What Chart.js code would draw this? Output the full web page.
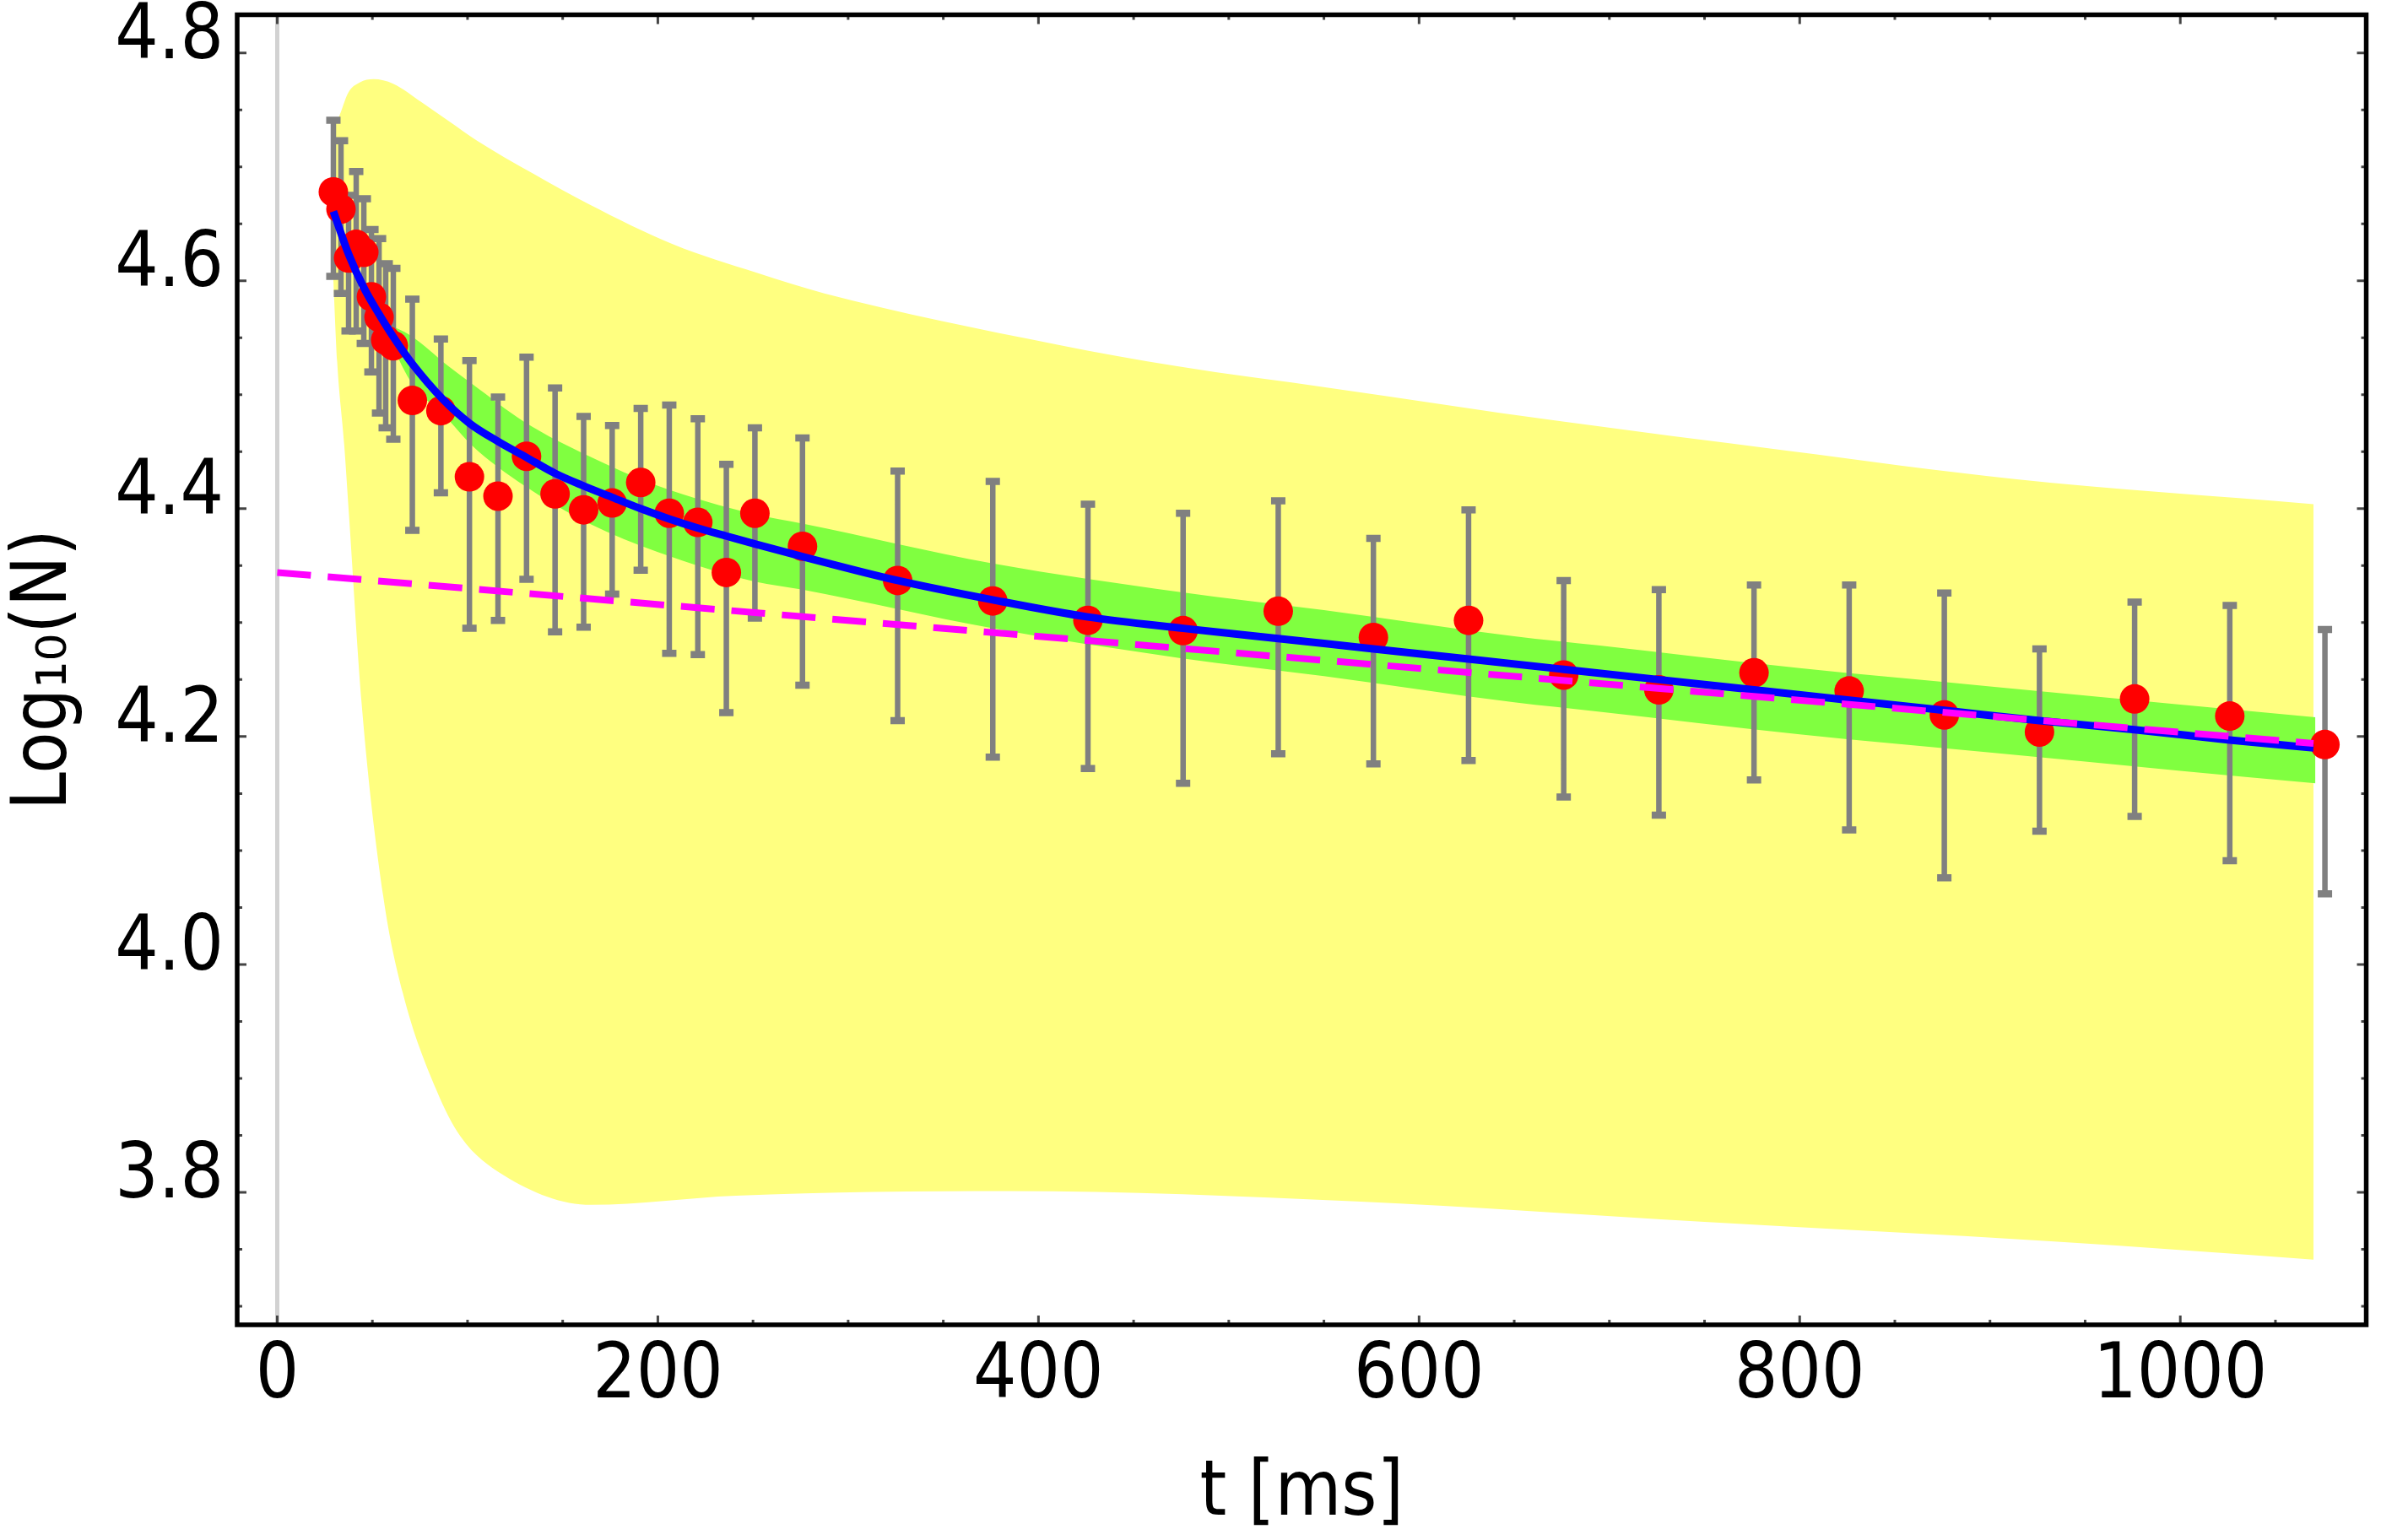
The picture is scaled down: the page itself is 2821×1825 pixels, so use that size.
<!DOCTYPE html>
<html>
<head>
<meta charset="utf-8">
<script src="https://cdn.jsdelivr.net/npm/chart.js@4.4.1/dist/chart.umd.min.js"></script>
<style>
  html, body { margin: 0; padding: 0; background: #fff; overflow: hidden; }
  canvas { display: block; }
</style>
</head>
<body>
<canvas id="c" width="2821" height="1825"></canvas>
<script>
// observed points (t in ms, log10 N) with error bar ends
const tObs = [29.5, 33.5, 37.5, 41.5, 45.5, 49.5, 53.5, 57, 61, 71, 86, 101, 116, 131, 146, 161, 176, 191, 206, 221, 236, 251, 276, 326, 376, 426, 476, 526, 576, 626, 676, 726, 776, 826, 876, 926, 976, 1026, 1076];
const logN = [4.678, 4.663, 4.620, 4.632, 4.625, 4.586, 4.568, 4.548, 4.543, 4.495, 4.486, 4.428, 4.411, 4.446, 4.413, 4.399, 4.405, 4.423, 4.396, 4.388, 4.344, 4.396, 4.367, 4.337, 4.319, 4.302, 4.293, 4.310, 4.287, 4.302, 4.254, 4.241, 4.256, 4.240, 4.219, 4.204, 4.233, 4.218, 4.193];
const errHi = [4.741, 4.723, 4.675, 4.696, 4.672, 4.645, 4.637, 4.615, 4.611, 4.584, 4.549, 4.530, 4.498, 4.533, 4.506, 4.481, 4.473, 4.488, 4.491, 4.479, 4.439, 4.471, 4.462, 4.433, 4.424, 4.404, 4.396, 4.407, 4.374, 4.399, 4.337, 4.329, 4.333, 4.333, 4.326, 4.277, 4.318, 4.315, 4.294];
const errLo = [4.604, 4.589, 4.556, 4.556, 4.545, 4.520, 4.484, 4.471, 4.461, 4.381, 4.414, 4.295, 4.302, 4.338, 4.292, 4.296, 4.325, 4.346, 4.273, 4.272, 4.221, 4.304, 4.245, 4.214, 4.182, 4.172, 4.159, 4.185, 4.176, 4.179, 4.147, 4.131, 4.162, 4.118, 4.076, 4.117, 4.130, 4.091, 4.062];

// fitted curve (blue)
const tFit = [29.5, 37.6, 45.5, 53.4, 61.3, 71, 87, 101, 116, 131, 146, 161, 176, 191, 206, 221, 236, 251, 276, 326, 376, 426, 476, 526, 576, 626, 676, 726, 776, 826, 876, 926, 976, 1026, 1070];
const logFit = [4.661, 4.623, 4.594, 4.571, 4.550, 4.527, 4.496, 4.475, 4.459, 4.445, 4.431, 4.420, 4.410, 4.400, 4.391, 4.383, 4.376, 4.369, 4.358, 4.337, 4.320, 4.305, 4.295, 4.286, 4.277, 4.268, 4.259, 4.250, 4.241, 4.232, 4.223, 4.214, 4.206, 4.197, 4.190];

// green band around the fit
const tBand = [58, 70, 90, 102, 130, 164, 200, 251, 276, 376, 474, 550, 650, 694, 800, 900, 1000, 1071];
const bandHi = [4.562, 4.552, 4.525, 4.510, 4.476, 4.446, 4.420, 4.395, 4.387, 4.352, 4.327, 4.311, 4.288, 4.280, 4.260, 4.244, 4.228, 4.217];
const bandLo = [4.552, 4.512, 4.478, 4.456, 4.420, 4.387, 4.362, 4.336, 4.329, 4.295, 4.269, 4.253, 4.230, 4.222, 4.202, 4.186, 4.170, 4.159];

// yellow band
const tYelHi = [29.3, 32.2, 37.3, 43.3, 50.6, 60.9, 75.6, 90.3, 105, 134.5, 164, 208, 252, 287.5, 410, 473, 553, 673, 793, 913, 1070];
const yelHi = [4.735, 4.743, 4.765, 4.774, 4.777, 4.773, 4.757, 4.740, 4.723, 4.694, 4.667, 4.632, 4.607, 4.589, 4.544, 4.525, 4.506, 4.477, 4.451, 4.426, 4.404];
const tYelLo = [29.3, 31.5, 35.2, 37.6, 44.4, 55.7, 66, 83.6, 96.3, 119, 165, 241, 385, 567, 750, 932, 1070];
const yelLo = [4.608, 4.529, 4.456, 4.397, 4.228, 4.060, 3.975, 3.890, 3.849, 3.815, 3.789, 3.797, 3.801, 3.792, 3.774, 3.757, 3.741];

// slow exponential (magenta dashed)
const tExp = [0, 1070];
const logExp = [4.344, 4.194];

// axes
const xTicks = [0, 200, 400, 600, 800, 1000];
const yTicks = [3.8, 4.0, 4.2, 4.4, 4.6, 4.8];
const xMin = -21.05, xMax = 1097.7;
const yMin = 3.6837, yMax = 4.8335;

const pts = (xs, ys) => xs.map((x, i) => ({ x: x, y: ys[i] }));

const barSegs = [];
tObs.forEach((t, i) => {
  barSegs.push({ x: t, y: errLo[i] }, { x: t, y: errHi[i] }, { x: t, y: null });
});
const caps = pts(tObs, errHi).concat(pts(tObs, errLo));

const FONT = "'DejaVu Sans Condensed', 'DejaVu Sans', sans-serif";
Chart.defaults.font.family = FONT;

// Mathematica-like frame with inward ticks on all sides
const framePlugin = {
  id: 'frame',
  afterDatasetsDraw(chart) {
    const { ctx, chartArea: a, scales: { x, y } } = chart;
    ctx.save();
    ctx.strokeStyle = '#444';
    ctx.lineWidth = 3;
    const xMinor = [], yMinor = [];
    for (let v = 0; v <= 1050; v += 50) xMinor.push(v);
    for (let v = 3.70; v <= 4.801; v += 0.05) yMinor.push(v);
    ctx.beginPath();
    xMinor.forEach(v => {
      const px = x.getPixelForValue(v);
      const len = xTicks.includes(v) ? 11 : 6;
      ctx.moveTo(px, a.bottom); ctx.lineTo(px, a.bottom - len);
      ctx.moveTo(px, a.top); ctx.lineTo(px, a.top + len);
    });
    yMinor.forEach(v => {
      const py = y.getPixelForValue(v);
      const major = yTicks.some(t => Math.abs(t - v) < 1e-6);
      const len = major ? 11 : 6;
      ctx.moveTo(a.left, py); ctx.lineTo(a.left + len, py);
      ctx.moveTo(a.right, py); ctx.lineTo(a.right - len, py);
    });
    ctx.stroke();
    ctx.strokeStyle = '#000';
    ctx.lineWidth = 5.5;
    ctx.strokeRect(a.left, a.top, a.right - a.left, a.bottom - a.top);
    ctx.restore();
  }
};

new Chart(document.getElementById('c'), {
  type: 'line',
  data: {
    datasets: [
      { data: pts(tYelHi, yelHi), borderWidth: 0, pointRadius: 0, fill: '+1',
        backgroundColor: '#ffff80', cubicInterpolationMode: 'monotone', order: 10 },
      { data: pts(tYelLo, yelLo), borderWidth: 0, pointRadius: 0, fill: false,
        cubicInterpolationMode: 'monotone', order: 10 },
      { data: pts(tBand, bandHi), borderWidth: 0, pointRadius: 0, fill: '+1',
        backgroundColor: '#80ff40', cubicInterpolationMode: 'monotone', order: 9 },
      { data: pts(tBand, bandLo), borderWidth: 0, pointRadius: 0, fill: false,
        cubicInterpolationMode: 'monotone', order: 9 },
      { data: barSegs, borderColor: '#808080', borderWidth: 6.5, pointRadius: 0,
        spanGaps: false, borderCapStyle: 'butt', order: 8 },
      { data: caps, showLine: false, pointStyle: 'line', pointRadius: 8.5,
        pointBorderWidth: 8.5, pointBorderColor: '#808080', order: 7 },
      { data: pts(tObs, logN), showLine: false, pointRadius: 17.5, pointBorderWidth: 0,
        pointBackgroundColor: '#ff0000', order: 6 },
      { data: pts(tFit, logFit), borderColor: '#0000ff', borderWidth: 9, pointRadius: 0,
        cubicInterpolationMode: 'monotone', order: 5 },
      { data: pts(tExp, logExp), borderColor: '#ff00ff', borderWidth: 8, pointRadius: 0,
        borderDash: [40, 20], order: 4 }
    ]
  },
  options: {
    responsive: false,
    devicePixelRatio: 1,
    animation: false,
    layout: { padding: { top: 6, right: 5, left: 0, bottom: 0 } },
    plugins: { legend: { display: false }, tooltip: { enabled: false } },
    elements: { line: { tension: 0 } },
    scales: {
      x: {
        type: 'linear', min: xMin, max: xMax,
        afterBuildTicks: s => { s.ticks = xTicks.map(v => ({ value: v })); },
        afterFit: s => { s.height = 255; s.paddingLeft = 0; s.paddingRight = 0; },
        ticks: { color: '#000', font: { size: 90, lineHeight: 1 }, padding: 18, maxRotation: 0, autoSkip: false,
                 callback: v => String(v) },
        grid: { drawTicks: false, lineWidth: 5,
                color: c => (c.tick && c.tick.value === 0) ? '#d2d2d2' : 'rgba(0,0,0,0)' },
        border: { display: false },
        title: { display: true, text: 't [ms]', color: '#000', font: { size: 90, lineHeight: 1 },
                 padding: { top: 0, bottom: 8 } }
      },
      y: {
        type: 'linear', min: yMin, max: yMax,
        afterBuildTicks: s => { s.ticks = yTicks.map(v => ({ value: v })); },
        afterFit: s => { s.width = 281; s.paddingTop = 0; s.paddingBottom = 0; },
        ticks: { color: '#000', font: { size: 90, lineHeight: 1 }, padding: 8, autoSkip: false,
                 labelOffset: -17, callback: v => v.toFixed(1) },
        grid: { display: false },
        border: { display: false },
        title: { display: true, text: 'Log\u2081\u2080(N)', color: '#000', font: { size: 90, lineHeight: 1 },
                 padding: { top: 10, bottom: 0 } }
      }
    }
  },
  plugins: [framePlugin]
});
</script>
</body>
</html>
